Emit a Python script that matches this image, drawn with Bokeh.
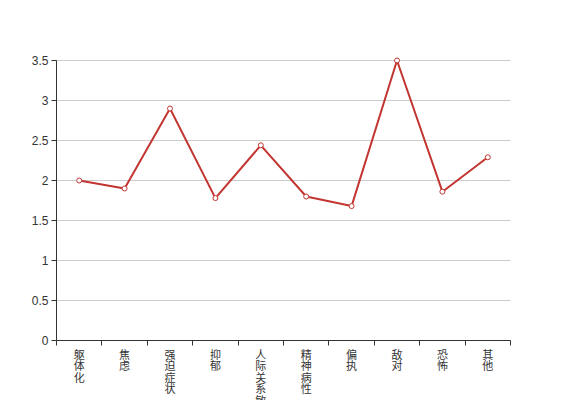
from bokeh.plotting import figure
from bokeh.models import FixedTicker, Range1d
from bokeh.embed import file_html
from bokeh.resources import INLINE

categories = ["躯体化", "焦虑", "强迫症状", "抑郁", "人际关系敏感", "精神病性", "偏执", "敌对", "恐怖", "其他"]
values = [2.0, 1.9, 2.9, 1.78, 2.44, 1.8, 1.68, 3.5, 1.86, 2.29]
y_ticks = [0, 0.5, 1, 1.5, 2, 2.5, 3, 3.5]
y_tick_labels = ["0", "0.5", "1", "1.5", "2", "2.5", "3", "3.5"]

xs = [i + 0.5 for i in range(len(categories))]

# 80 px per unit; a little headroom above 3.5 so the top marker is not clipped
p = figure(frame_width=454, frame_height=284, output_backend="svg", toolbar_location=None,
           x_range=Range1d(0, len(categories)), y_range=Range1d(0, 3.55),
           min_border_left=56, min_border_top=56, min_border_right=57, min_border_bottom=60)
p.outline_line_color = None
p.xgrid.grid_line_color = None
p.ygrid.grid_line_color = "#cccccc"
p.ygrid.grid_line_width = 1

font = "'Liberation Sans', 'Noto Sans CJK SC', sans-serif"

p.xaxis.ticker = FixedTicker(ticks=xs, minor_ticks=list(range(len(categories) + 1)))
p.xaxis.major_label_overrides = {x: "\n".join(c) for x, c in zip(xs, categories)}
p.xaxis.major_tick_out = 0
p.xaxis.major_tick_in = 0
p.xaxis.minor_tick_out = 5
p.xaxis.minor_tick_in = 0
p.xaxis.minor_tick_line_color = "#333333"
p.xaxis.major_label_standoff = 3
p.xaxis.major_label_text_line_height = 0.97

p.yaxis.ticker = FixedTicker(ticks=y_ticks, minor_ticks=[])
p.yaxis.major_label_overrides = {t: l for t, l in zip(y_ticks, y_tick_labels)}
p.yaxis.major_tick_out = 5
p.yaxis.major_tick_in = 0
p.yaxis.major_label_standoff = 3
p.yaxis.bounds = (0, 3.5)

for ax in (p.xaxis, p.yaxis):
    ax.axis_line_color = "#333333"
    ax.major_tick_line_color = "#333333"
    ax.major_label_text_color = "#333333"
    ax.major_label_text_font = font
p.yaxis.major_label_text_font_size = "12px"
p.xaxis.major_label_text_font_size = "11px"

p.line(xs, values, line_color="#c23531", line_width=2)
p.scatter(xs, values, size=5, fill_color="white", line_color="#c23531", line_width=1)

open("out.html", "w").write(file_html(p, INLINE))
